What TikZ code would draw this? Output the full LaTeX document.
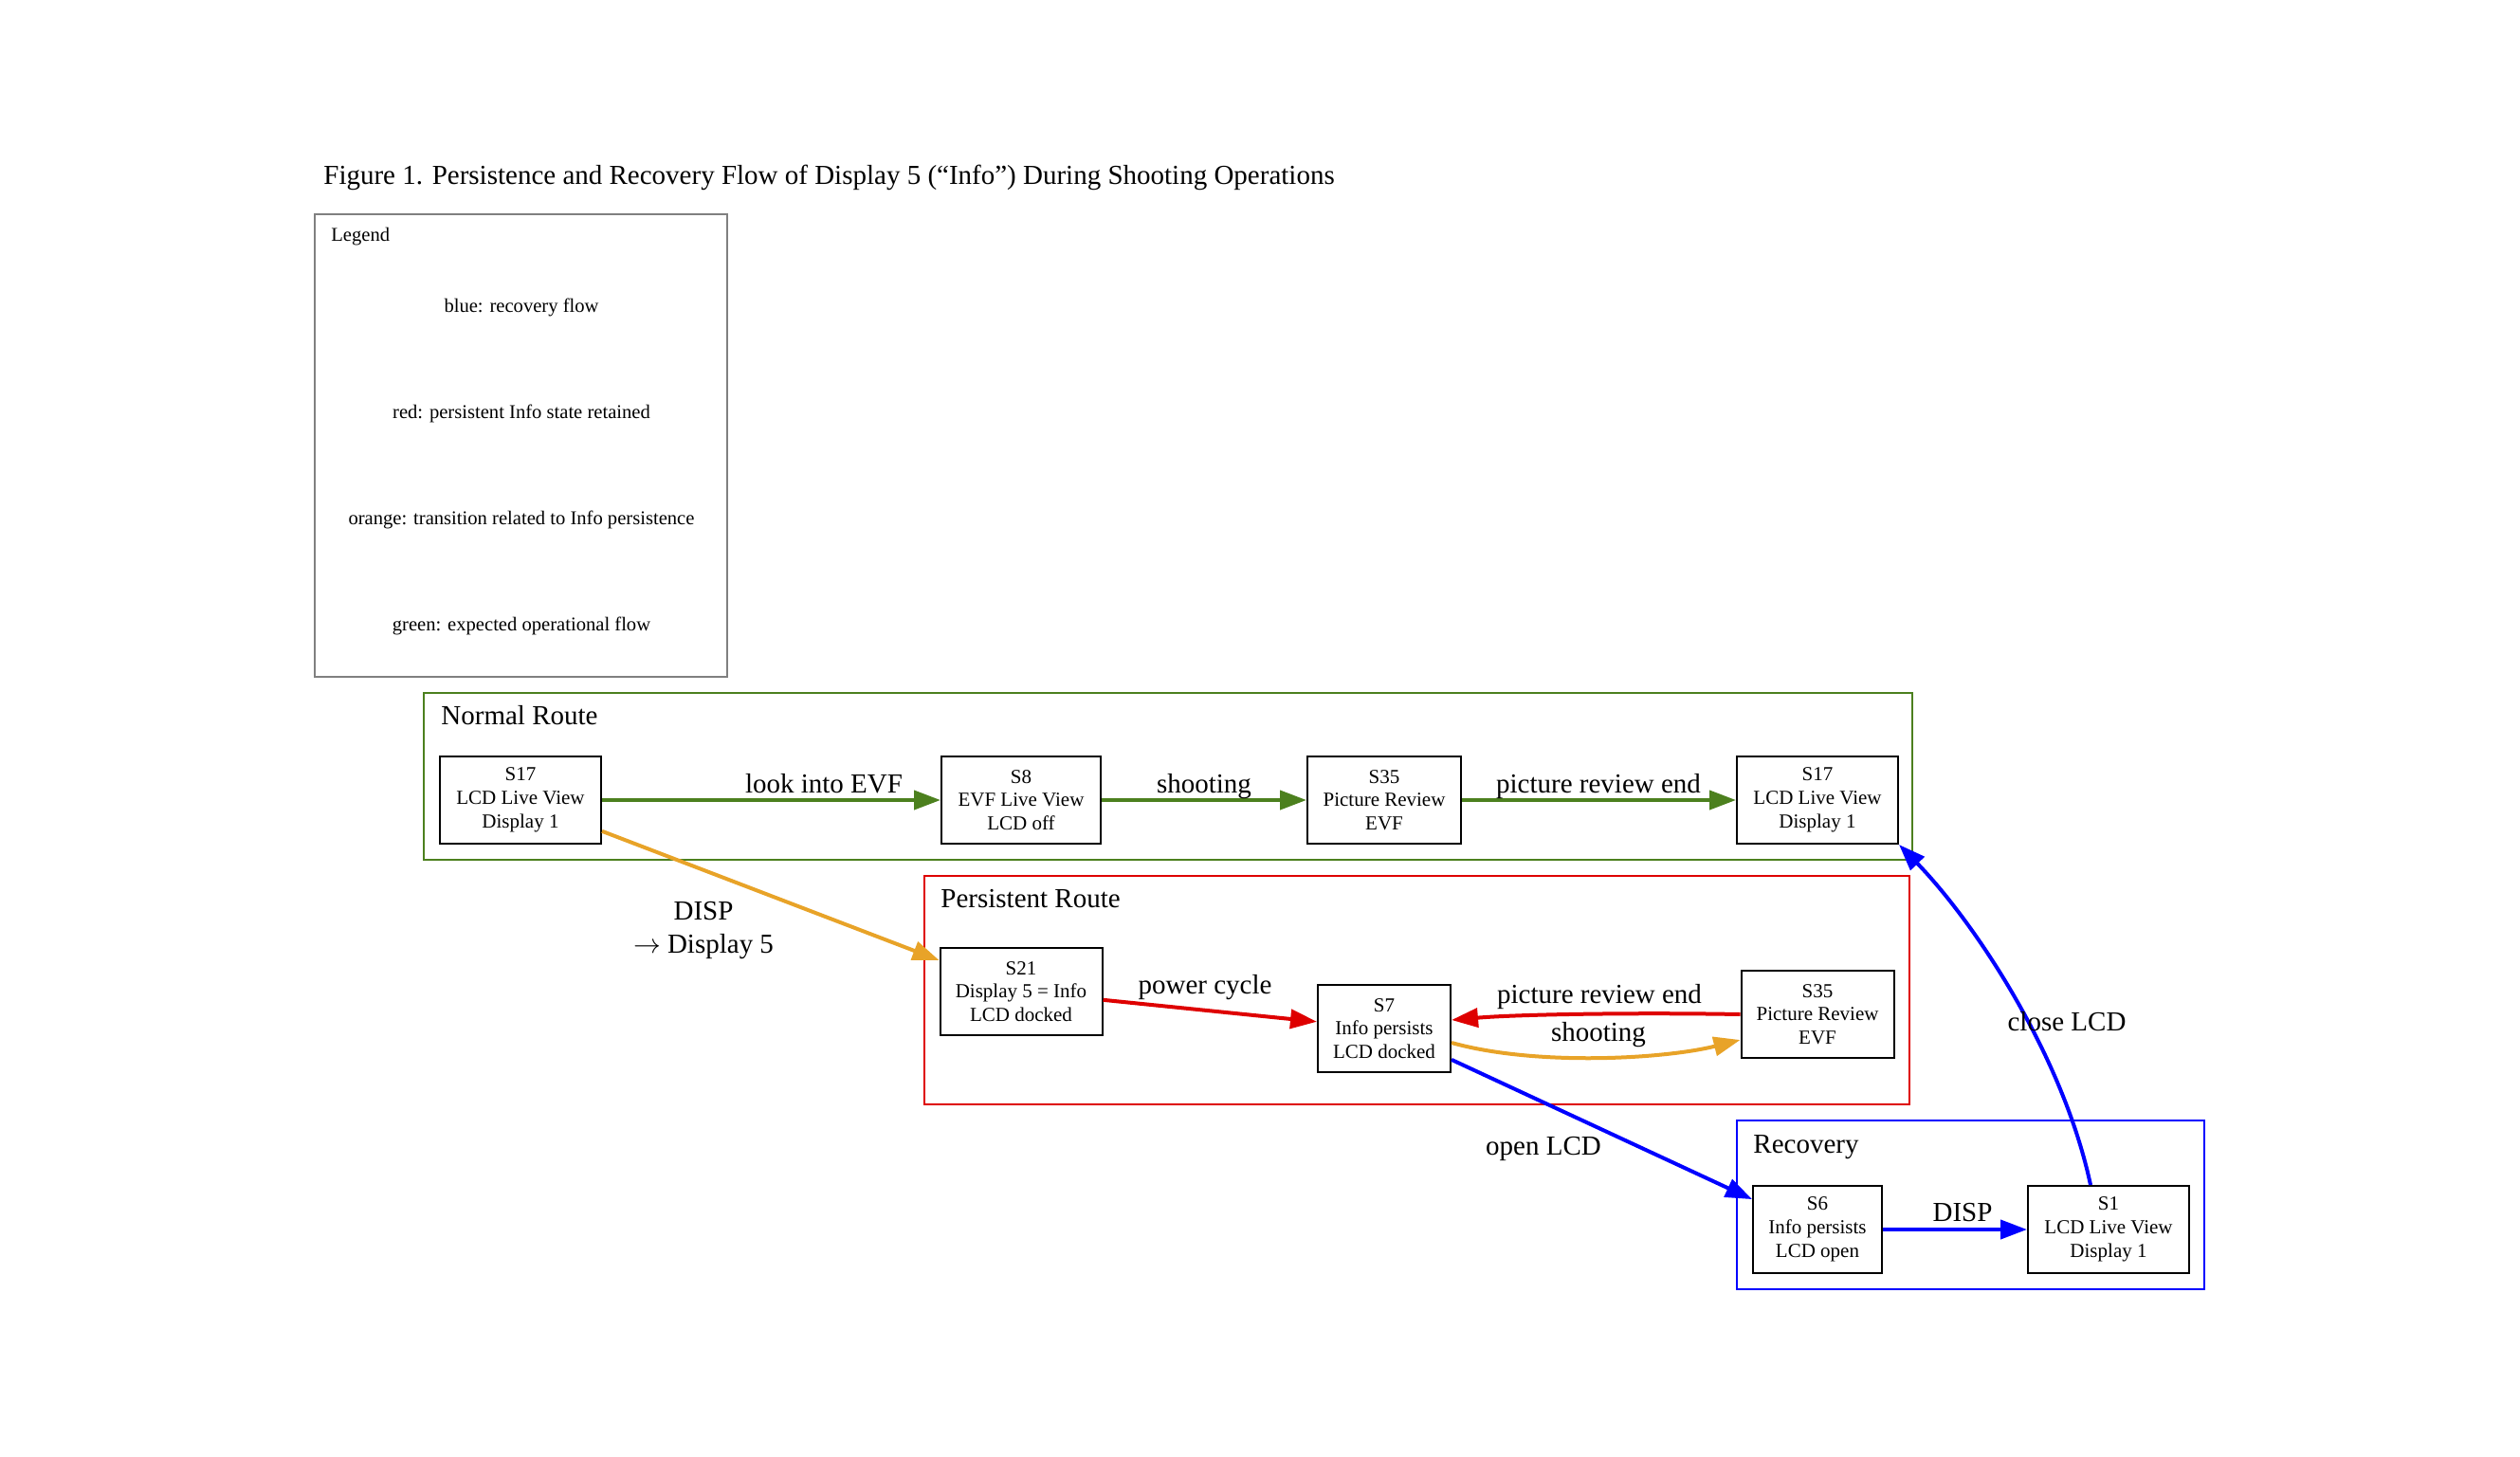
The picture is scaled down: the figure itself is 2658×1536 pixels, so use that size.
\documentclass[tikz,border=0pt]{standalone}
\usepackage{fontspec}
\setmainfont{Liberation Serif}
\usetikzlibrary{arrows.meta}

\definecolor{flowgreen}{RGB}{76,128,30}
\definecolor{flowred}{RGB}{222,0,0}
\definecolor{floworange}{RGB}{232,163,40}
\definecolor{flowblue}{RGB}{0,0,255}

\begin{document}
\begin{tikzpicture}[x=0.5pt,y=-0.5pt,
  state/.style={draw,line width=1pt,align=center,inner sep=0pt,minimum height=46pt,
    font=\fontsize{10.5}{12.4}\selectfont},
  lbl/.style={anchor=base,inner sep=0pt,font=\fontsize{14.5}{17.5}\selectfont},
  legtext/.style={anchor=base,inner sep=0pt,font=\fontsize{10.3}{12.5}\selectfont},
  group/.style={line width=0.8pt},
  flow/.style={line width=2pt,-{Triangle[length=14pt,width=10pt]}}]
\useasboundingbox (0,0) rectangle (2658,1536);

% title and legend
\node[lbl,anchor=base west] (title) at (341,194)
  {Figure 1. Persistence and Recovery Flow of Display 5 (“Info”) During Shooting Operations};
\draw[gray,line width=0.8pt] (332,226) rectangle (767,714);
\node[legtext,anchor=base west] (leg) at (349,254) {Legend};
\node[legtext] (legblue) at (550,329) {blue: recovery flow};
\node[legtext] (legred) at (550,441) {red: persistent Info state retained};
\node[legtext] (legorange) at (550,553) {orange: transition related to Info persistence};
\node[legtext] (leggreen) at (550,665) {green: expected operational flow};

% clusters
\draw[group,flowgreen] (447,731) rectangle (2017,907);
\node[lbl,anchor=base west] (normal) at (465,764) {Normal Route};
\draw[group,flowred] (975,924) rectangle (2014,1165);
\node[lbl,anchor=base west] (persist) at (992,957) {Persistent Route};
\draw[group,flowblue] (1832,1182) rectangle (2325,1360);
\node[lbl,anchor=base west] (recov) at (1849,1216) {Recovery};

% states
\node[state,minimum width=85pt] (s17a) at (549,844) {S17\\LCD Live View\\Display 1};
\node[state,minimum width=84pt] (s8) at (1077,844) {S8\\EVF Live View\\LCD off};
\node[state,minimum width=81pt] (s35a) at (1460,844) {S35\\Picture Review\\EVF};
\node[state,minimum width=85pt] (s17b) at (1917,844) {S17\\LCD Live View\\Display 1};
\node[state,minimum width=85.5pt] (s21) at (1077,1046) {S21\\Display 5 = Info\\LCD docked};
\node[state,minimum width=70pt] (s7) at (1460,1085) {S7\\Info persists\\LCD docked};
\node[state,minimum width=80.5pt] (s35b) at (1917,1070) {S35\\Picture Review\\EVF};
\node[state,minimum width=68pt] (s6) at (1917,1297) {S6\\Info persists\\LCD open};
\node[state,minimum width=85pt] (s1) at (2224,1297) {S1\\LCD Live View\\Display 1};

% normal route
\draw[flow,flowgreen] (s17a) -- (s8);
\node[lbl] (look) at (869,836) {look into EVF};
\draw[flow,flowgreen] (s8) -- (s35a);
\node[lbl] (shoot1) at (1270,836) {shooting};
\draw[flow,flowgreen] (s35a) -- (s17b);
\node[lbl] (review1) at (1686,836) {picture review end};

% into persistent route
\draw[flow,floworange] (s17a) -- (s21);
\node[lbl,anchor=center,align=center] (disp1) at (742,982) {DISP\\$\rightarrow$ Display 5};
\draw[flow,flowred] (s21) -- (s7);
\node[lbl] (power) at (1271,1048) {power cycle};
\draw[flow,flowred] (s35b.west) .. controls +(-110,-2) and +(70,-6) .. ([yshift=4.5pt]s7.east);
\node[lbl] (review2) at (1687,1058) {picture review end};
\draw[flow,floworange] ([yshift=-7.5pt]s7.east) .. controls +(90,25) and +(-80,20) .. ([yshift=-13.5pt]s35b.west);
\node[lbl] (shoot2) at (1686,1098) {shooting};

% recovery
\draw[flow,flowblue] (s7) -- (s6);
\node[lbl] (open) at (1628,1218) {open LCD};
\draw[flow,flowblue] (s6) -- (s1);
\node[lbl] (disp2) at (2070,1288) {DISP};
\draw[flow,flowblue] ([xshift=-9.5pt]s1.north) .. controls (2175,1110) and (2080,970) .. (s17b.south east);
\node[lbl] (close) at (2180,1087) {close LCD};
\end{tikzpicture}
\end{document}
